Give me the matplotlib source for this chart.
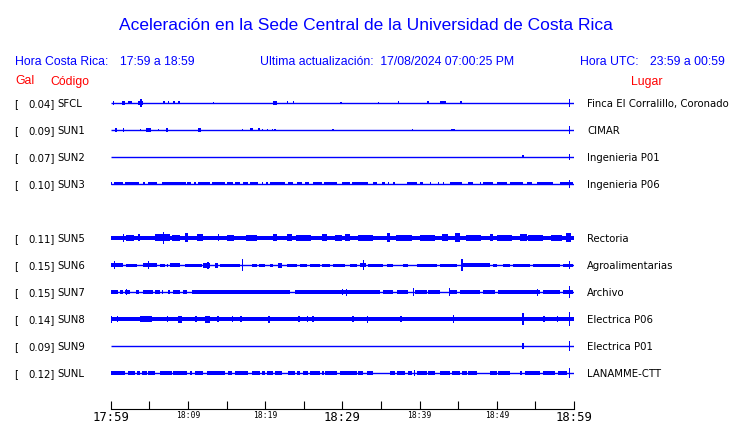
import matplotlib
matplotlib.use("Agg")
import matplotlib.pyplot as plt
import matplotlib.transforms as mtransforms

W, H = 740, 423
DPI = 100

title = "Aceleración en la Sede Central de la Universidad de Costa Rica"
hora_cr_label = "Hora Costa Rica:"
hora_cr = "17:59 a 18:59"
update_text = "Ultima actualización:  17/08/2024 07:00:25 PM"
hora_utc_label = "Hora UTC:"
hora_utc = "23:59 a 00:59"

codes = ["SFCL", "SUN1", "SUN2", "SUN3", "SUN5", "SUN6", "SUN7", "SUN8", "SUN9", "SUNL"]
gal = [0.04, 0.09, 0.07, 0.10, 0.11, 0.15, 0.15, 0.14, 0.09, 0.12]
places = ["Finca El Corralillo, Coronado", "CIMAR", "Ingenieria P01", "Ingenieria P06",
          "Rectoria", "Agroalimentarias", "Archivo", "Electrica P06", "Electrica P01",
          "LANAMME-CTT"]
# slot of each station in the list (SUN4 slot is empty)
slots = [0, 1, 2, 3, 5, 6, 7, 8, 9, 10]

duration = 60  # minutes shown
tick_minutes = list(range(0, 61, 5))
tick_labels = ["17:59", "", "18:09", "", "18:19", "", "18:29", "", "18:39", "", "18:49", "", "18:59"]
big_ticks = ["17:59", "18:29", "18:59"]

# bursts: (start minute, end minute, half amplitude in px)
SFCL = [(0.3, 0.45, 2), (1.5, 1.8, 2), (2.2, 2.7, 1.5), (3.5, 4.2, 2), (3.85, 4.0, 4),
        (6.8, 6.95, 1.5), (7.4, 7.55, 1.5), (8.1, 8.25, 1.5), (8.7, 9.0, 1.5), (13.2, 13.35, 1),
        (21.0, 21.6, 2), (22.8, 22.95, 1.5), (23.6, 23.75, 1.5), (29.7, 29.9, 1), (34.6, 34.75, 1),
        (37.2, 37.35, 1.5), (41.0, 41.15, 1.5), (42.6, 43.4, 1.5), (45.3, 45.45, 1.5), (59.3, 59.5, 4)]
SUN1 = [(0.55, 0.8, 2), (1.6, 1.75, 2), (3.8, 3.95, 1), (4.6, 5.2, 2), (6.1, 6.25, 1), (7.2, 7.35, 2),
        (11.3, 11.7, 2), (17.0, 17.15, 1), (18.0, 18.4, 1.5), (19.1, 19.25, 1.5), (19.6, 19.75, 1),
        (20.2, 20.35, 1), (20.9, 21.05, 1), (21.2, 21.35, 1), (28.7, 28.85, 1), (39.0, 39.15, 1),
        (44.1, 44.6, 1), (59.3, 59.5, 4)]
SUN2 = [(53.3, 53.45, 1.5), (59.3, 59.5, 3)]
SUN3 = [(0.0, 0.2, 1.5), (0.4, 1.6, 1.5), (1.85, 3.7, 1.5), (4.2, 4.4, 1.5), (4.8, 6.0, 1.5),
        (6.6, 9.75, 1.5), (9.9, 10.4, 1.5), (10.8, 11.0, 1.5), (11.3, 12.9, 1.5), (13.1, 14.8, 1.5),
        (15.1, 15.8, 1.5), (16.1, 16.7, 1.5), (17.1, 17.8, 1.5), (18.0, 19.1, 1.5), (19.6, 19.7, 1.5),
        (20.1, 20.4, 1.5), (20.6, 22.6, 1.5), (23.0, 23.6, 1.5), (24.1, 24.8, 1.5), (25.2, 25.7, 1.5),
        (26.2, 27.4, 1.5), (27.6, 29.3, 1.5), (29.95, 31.0, 1.5), (31.3, 33.3, 1.5), (34.0, 34.5, 1.5),
        (35.1, 35.5, 1.5), (35.9, 36.0, 1.5), (36.6, 36.8, 1.5), (38.4, 39.7, 1.5), (40.1, 40.5, 1.5),
        (41.3, 41.4, 1.5), (42.4, 42.5, 1.5), (43.0, 43.1, 1.5), (43.95, 45.5, 1.5), (46.3, 46.9, 1.5),
        (47.8, 47.9, 1.5), (48.2, 49.5, 1.5), (50.0, 51.3, 1.5), (51.7, 53.4, 1.5), (53.9, 54.6, 1.5),
        (55.2, 57.3, 1.5), (58.2, 59.9, 1.5), (59.3, 59.5, 4)]
SUN5 = [(0.0, 60.0, 2.4), (2.0, 3.0, 2.9), (8.0, 9.0, 2.9), (15.0, 16.0, 2.9), (17.5, 19.0, 2.9),
        (24.0, 26.0, 2.9), (29.0, 30.0, 2.9), (32.0, 34.0, 2.9), (37.0, 39.0, 2.9), (40.0, 42.0, 2.9),
        (46.0, 48.0, 2.9), (50.0, 52.0, 2.9), (54.0, 56.0, 2.9), (57.0, 58.5, 2.9),
        (1.6, 1.75, 4), (3.5, 3.8, 3.5), (5.7, 7.7, 3.5), (6.75, 6.9, 6), (9.6, 10.0, 4.5), (11.2, 12.0, 3.5),
        (13.9, 14.05, 3.5), (21.0, 21.5, 3.5), (22.8, 23.5, 3.5), (27.4, 28.0, 3.5), (30.4, 31.0, 3.5),
        (35.8, 36.2, 4.5), (42.9, 43.7, 3.5), (44.6, 45.3, 4.5), (49.1, 49.5, 3.5), (53.0, 53.9, 3.5),
        (59.0, 59.6, 4.5)]
SUN6 = [(0.0, 1.6, 2), (0.4, 0.55, 4), (2.0, 3.4, 1.5), (4.2, 6.0, 2), (4.8, 4.95, 4), (6.4, 7.0, 1.5),
        (7.3, 7.4, 1.5), (7.7, 9.0, 2), (9.6, 11.8, 1.5), (12.0, 12.9, 2.5), (12.5, 12.65, 3.5),
        (13.5, 13.9, 2.5), (14.2, 16.8, 1.5), (17.0, 17.15, 6), (18.3, 18.9, 1.5), (19.2, 20.0, 1.5),
        (20.6, 21.0, 1.5), (21.7, 22.2, 2.5), (22.8, 24.1, 1.5), (24.5, 25.4, 1.5), (25.8, 27.1, 1.5),
        (27.4, 28.4, 1.5), (28.8, 30.4, 1.5), (31.0, 31.9, 1.5), (32.3, 33.0, 2), (32.65, 32.8, 5),
        (33.3, 35.3, 1.5), (35.8, 36.6, 1.5), (37.9, 38.5, 1.5), (39.7, 42.3, 1.5), (42.7, 44.9, 1.5),
        (45.4, 45.55, 6), (45.6, 49.1, 2), (49.5, 50.0, 1.5), (50.8, 51.7, 1.5), (52.1, 54.3, 1.5),
        (54.7, 58.2, 1.5), (58.6, 59.9, 1.5), (59.3, 59.5, 4)]
SUN7 = [(0.0, 0.95, 2), (1.2, 1.6, 2), (1.85, 2.5, 2), (1.95, 2.1, 3), (3.3, 3.7, 2), (4.2, 5.5, 2),
        (5.7, 6.4, 2), (6.6, 6.8, 2), (7.4, 7.7, 2), (8.1, 9.0, 2), (9.4, 9.9, 2), (10.5, 23.2, 2),
        (23.9, 34.9, 2), (29.95, 30.1, 3), (30.45, 30.6, 3.5), (35.3, 36.6, 2), (37.1, 38.5, 2),
        (39.15, 39.3, 4), (39.4, 41.0, 2), (41.1, 42.7, 2), (43.75, 43.9, 4), (44.0, 44.9, 2),
        (45.3, 47.8, 2), (48.2, 49.8, 2), (50.2, 55.6, 2), (55.15, 55.3, 3.5), (56.0, 58.2, 2),
        (58.6, 59.9, 2), (59.3, 59.5, 6)]
SUN8 = [(0.0, 60.0, 2.1), (0.0, 0.15, 3.5), (0.8, 0.95, 3), (3.8, 5.3, 3), (7.3, 7.45, 3),
        (8.7, 9.2, 3.5), (10.9, 11.2, 3), (12.2, 12.9, 3.5), (13.8, 13.95, 3), (15.7, 15.85, 3),
        (16.8, 16.95, 3), (20.4, 20.55, 3.5), (24.3, 24.45, 3), (25.4, 25.55, 3), (26.1, 26.25, 3),
        (31.3, 31.45, 3), (33.2, 33.35, 3.5), (37.5, 37.65, 3), (44.3, 44.45, 4), (53.3, 53.45, 6),
        (56.0, 56.15, 3), (57.8, 57.95, 3), (59.3, 59.5, 7)]
SUN9 = [(53.3, 53.45, 3), (59.3, 59.5, 5)]
SUNL = [(0.0, 1.85, 2), (2.2, 3.1, 2), (3.4, 3.8, 2), (4.1, 4.7, 2), (4.8, 5.7, 2), (6.4, 7.9, 2),
        (8.1, 9.9, 2), (10.3, 10.4, 2), (10.9, 12.0, 2), (12.5, 14.8, 2), (15.2, 15.7, 2),
        (16.1, 17.8, 2), (18.3, 19.3, 2), (19.6, 20.0, 2), (20.3, 21.0, 2), (21.3, 22.2, 2),
        (23.0, 23.9, 2), (24.1, 24.5, 2), (24.9, 25.6, 2), (25.8, 27.1, 2), (27.4, 27.5, 2),
        (27.8, 29.3, 2), (29.7, 31.9, 2), (32.0, 32.7, 2), (33.2, 34.0, 2), (36.2, 36.8, 2),
        (37.1, 38.1, 2), (38.5, 39.0, 2), (39.25, 39.4, 3), (39.7, 41.0, 2), (41.1, 42.0, 2),
        (42.7, 44.0, 2), (44.2, 45.3, 2), (45.5, 46.2, 2), (46.3, 47.5, 2), (49.1, 50.0, 2),
        (50.2, 51.7, 2), (53.0, 53.3, 2), (53.7, 55.6, 2), (56.0, 57.5, 2), (57.9, 59.1, 2),
        (59.3, 59.5, 5)]
bursts = [SFCL, SUN1, SUN2, SUN3, SUN5, SUN6, SUN7, SUN8, SUN9, SUNL]

BLUE = "#0000ff"
RED = "#ff0000"
ROW_PX = 27.0      # pixels between stations
ROW0_PX = 103.0    # pixel y of the first trace
AX_TOP_PX, AX_BOT_PX = 90.0, 409.0
AX_L_PX, AX_R_PX = 110.7, 574.0

fig = plt.figure(figsize=(W / DPI, H / DPI), dpi=DPI)
fx = lambda px: px / W
fy = lambda py: 1 - py / H

ax = fig.add_axes([fx(AX_L_PX), fy(AX_BOT_PX), (AX_R_PX - AX_L_PX) / W, (AX_BOT_PX - AX_TOP_PX) / H])
ax.set_xlim(0, duration)
ax.set_ylim(-(AX_BOT_PX - ROW0_PX) / ROW_PX, (ROW0_PX - AX_TOP_PX) / ROW_PX)
for s in ["top", "left", "right"]:
    ax.spines[s].set_visible(False)
ax.spines["bottom"].set_linewidth(0.8)
ax.set_yticks([])
ax.set_xticks(tick_minutes)
ax.set_xticklabels(tick_labels)
ax.tick_params(axis="x", direction="in", length=6.0, width=0.8, pad=1.2)
for lab in ax.get_xticklabels():
    lab.set_family("DejaVu Sans Mono")
    lab.set_fontsize(8.8 if lab.get_text() in big_ticks else 5.8)

trans = mtransforms.blended_transform_factory(fig.transFigure, ax.transData)
for code, g, place, slot, br in zip(codes, gal, places, slots, bursts):
    y = -slot
    ax.hlines(y, 0, duration, color=BLUE, lw=1.0)
    for t0, t1, h in br:
        w = max(t1 - t0, 0.18)
        ax.bar(x=t0, height=2 * h / ROW_PX, width=w, bottom=y - h / ROW_PX, align="edge",
               color=BLUE, linewidth=0)
    yb = y - 3.9 / ROW_PX
    ax.text(fx(14), yb, "[", transform=trans, fontsize=7.3, va="baseline", ha="left",
            family="DejaVu Sans", clip_on=False)
    ax.text(fx(54.5), yb, f"{g:.2f}]", transform=trans, fontsize=7.3, va="baseline", ha="right",
            family="DejaVu Sans", clip_on=False)
    ax.text(fx(57.5), yb, code, transform=trans, fontsize=7.3, va="baseline", ha="left",
            family="DejaVu Sans", clip_on=False)
    ax.text(fx(587), yb, place, transform=trans, fontsize=7.3, va="baseline", ha="left",
            family="DejaVu Sans", clip_on=False)

hf = "Liberation Sans"
fig.text(fx(366), fy(29.5), title, color=BLUE, fontsize=12.5, family=hf, ha="center", va="baseline")
fig.text(fx(15), fy(64.5), hora_cr_label, color=BLUE, fontsize=8.8, family=hf, va="baseline")
fig.text(fx(120), fy(64.5), hora_cr, color=BLUE, fontsize=8.8, family=hf, va="baseline")
fig.text(fx(260), fy(64.5), update_text, color=BLUE, fontsize=8.8, family=hf, va="baseline")
fig.text(fx(580), fy(64.5), hora_utc_label, color=BLUE, fontsize=8.8, family=hf, va="baseline")
fig.text(fx(650), fy(64.5), hora_utc, color=BLUE, fontsize=8.8, family=hf, va="baseline")
fig.text(fx(15), fy(84.5), "Gal", color=RED, fontsize=8.8, family=hf, va="baseline")
fig.text(fx(50), fy(84.5), "Código", color=RED, fontsize=8.8, family=hf, va="baseline")
fig.text(fx(631), fy(84.5), "Lugar", color=RED, fontsize=8.8, family=hf, va="baseline")

fig.savefig("out.png", dpi=DPI)
